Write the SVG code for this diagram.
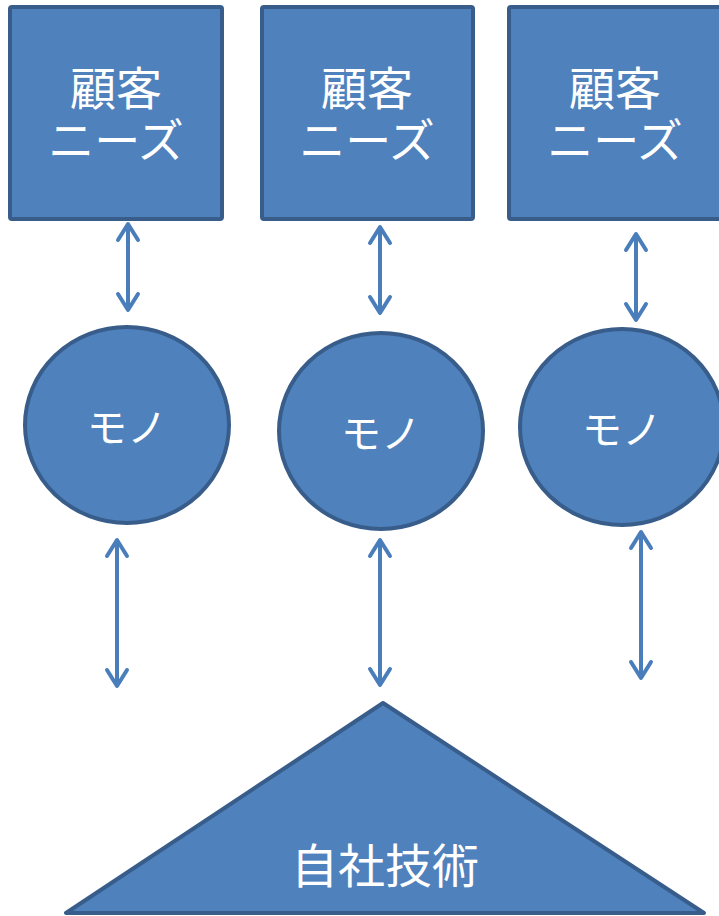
<svg xmlns="http://www.w3.org/2000/svg" width="719" height="916" viewBox="0 0 719 916">
  <style>
    .shape { fill: #4f81bd; stroke: #385d8a; stroke-width: 4; }
    .label { fill: #ffffff; font-family: "Noto Sans CJK JP", "Noto Sans", sans-serif; text-anchor: middle; }
    .need { font-size: 46px; }
    .thing { font-size: 40px; dominant-baseline: central; }
    .tech { font-size: 47px; dominant-baseline: central; }
    .link { stroke: #4a7ebb; stroke-width: 4; fill: none; marker-start: url(#chev); marker-end: url(#chev); }
  </style>
  <defs>
    <marker id="chev" markerUnits="userSpaceOnUse" markerWidth="40" markerHeight="40" viewBox="-20 -20 40 40" refX="0" refY="0" orient="auto-start-reverse">
      <path d="M -16 -10 L 0 0 L -16 10" fill="none" stroke="#4a7ebb" stroke-width="4" stroke-linecap="round" stroke-linejoin="round"/>
    </marker>
  </defs>

  <!-- customer needs -->
  <g id="needs-1">
    <rect class="shape" x="10" y="7" width="212" height="212" rx="2"/>
    <text class="label need" x="116" y="105">顧客<tspan x="116" dy="52">ニーズ</tspan></text>
  </g>
  <g id="needs-2">
    <rect class="shape" x="262" y="7" width="211" height="212" rx="2"/>
    <text class="label need" x="367" y="105">顧客<tspan x="367" dy="52">ニーズ</tspan></text>
  </g>
  <g id="needs-3">
    <rect class="shape" x="509" y="7" width="212" height="212" rx="2"/>
    <text class="label need" x="615" y="105">顧客<tspan x="615" dy="52">ニーズ</tspan></text>
  </g>

  <!-- products -->
  <g id="mono-1">
    <ellipse class="shape" cx="127" cy="425" rx="102" ry="98"/>
    <text class="label thing" x="127" y="425">モノ</text>
  </g>
  <g id="mono-2">
    <ellipse class="shape" cx="381" cy="431" rx="102" ry="98"/>
    <text class="label thing" x="381" y="431">モノ</text>
  </g>
  <g id="mono-3">
    <ellipse class="shape" cx="622" cy="427" rx="102" ry="98"/>
    <text class="label thing" x="622" y="427">モノ</text>
  </g>

  <!-- in-house technology -->
  <g id="tech">
    <polygon class="shape" points="383,703 66,913 704,913" stroke-linejoin="round"/>
    <text class="label tech" x="385" y="862">自社技術</text>
  </g>

  <!-- two-way links -->
  <g id="links">
    <line class="link" x1="128" y1="224" x2="128" y2="310"/>
    <line class="link" x1="380" y1="227" x2="380" y2="313"/>
    <line class="link" x1="636" y1="234" x2="636" y2="320"/>
    <line class="link" x1="117" y1="540" x2="117" y2="686"/>
    <line class="link" x1="380" y1="540" x2="380" y2="685"/>
    <line class="link" x1="641" y1="532" x2="641" y2="678"/>
  </g>
</svg>
